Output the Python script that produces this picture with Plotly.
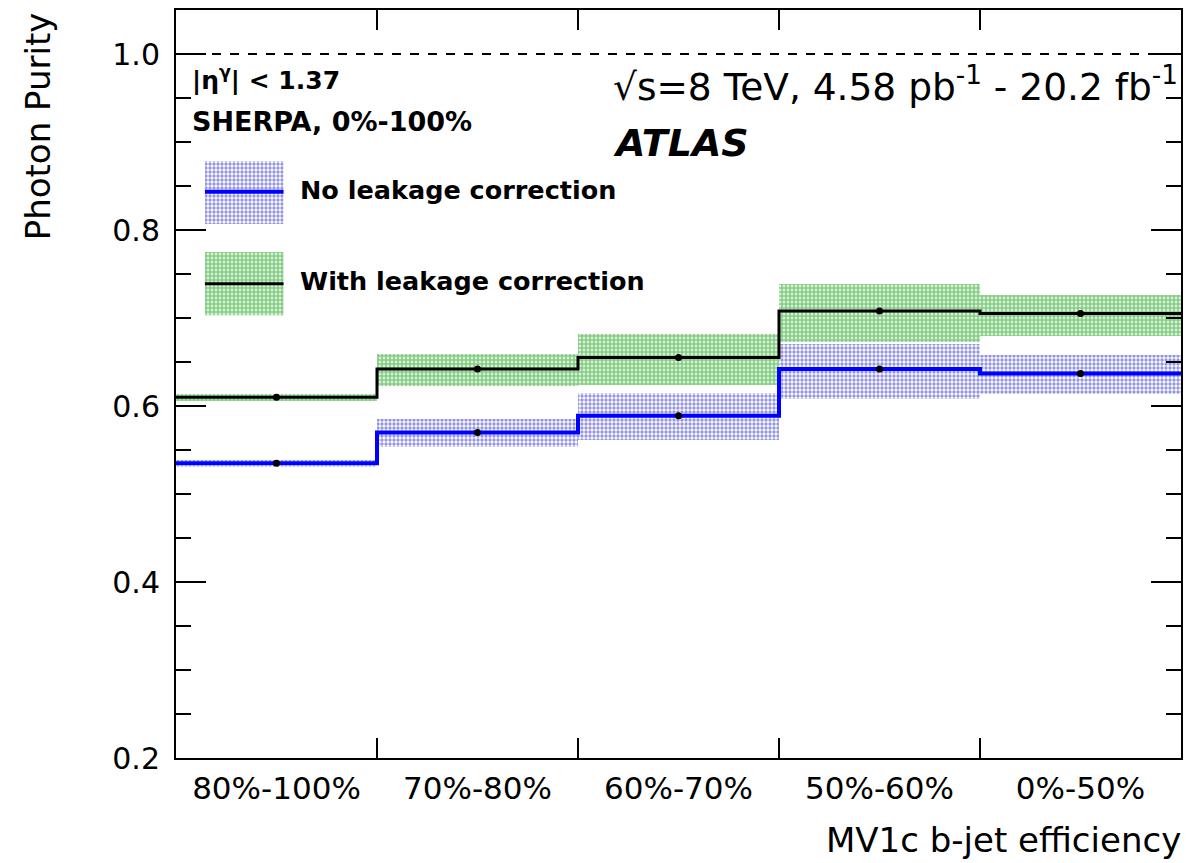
import plotly.graph_objects as go

# ---------------- data ----------------
categories = ["80%-100%", "70%-80%", "60%-70%", "50%-60%", "0%-50%"]
bin_centers = [0, 1, 2, 3, 4]
bin_edges = [-0.5, 0.5, 1.5, 2.5, 3.5, 4.5]

no_leak = [0.535, 0.570, 0.589, 0.642, 0.637]
no_leak_lo = [0.531, 0.553, 0.561, 0.608, 0.614]
no_leak_hi = [0.539, 0.585, 0.615, 0.671, 0.658]

with_leak = [0.610, 0.642, 0.655, 0.708, 0.705]
with_leak_lo = [0.606, 0.623, 0.624, 0.673, 0.680]
with_leak_hi = [0.614, 0.659, 0.682, 0.739, 0.726]

y_ticks = [0.2, 0.4, 0.6, 0.8, 1.0]
y_ticktext = ["0.2", "0.4", "0.6", "0.8", "1.0"]

FONT = "DejaVu Sans"
BLUE = "#0000ff"
GREEN_PAT = dict(shape=".", fgcolor="#0c9a0c", bgcolor="rgba(0,0,0,0)",
                 size=4, solidity=0.75, fillmode="overlay")
BLUE_PAT = dict(shape=".", fgcolor="#2a2ac4", bgcolor="rgba(0,0,0,0)",
                size=4, solidity=0.55, fillmode="overlay")

fig = go.Figure()

# uncertainty bands
fig.add_trace(go.Bar(
    x=bin_centers, y=[h - l for h, l in zip(with_leak_hi, with_leak_lo)], base=with_leak_lo,
    width=1.0, marker=dict(color="rgba(0,0,0,0)", line=dict(width=0), pattern=GREEN_PAT),
    showlegend=False, hoverinfo="skip"))
fig.add_trace(go.Bar(
    x=bin_centers, y=[h - l for h, l in zip(no_leak_hi, no_leak_lo)], base=no_leak_lo,
    width=1.0, marker=dict(color="rgba(0,0,0,0)", line=dict(width=0), pattern=BLUE_PAT),
    showlegend=False, hoverinfo="skip"))

# step lines
fig.add_trace(go.Scatter(x=bin_edges, y=with_leak + [with_leak[-1]], mode="lines",
                         line=dict(color="black", width=3, shape="hv"), showlegend=False))
fig.add_trace(go.Scatter(x=bin_edges, y=no_leak + [no_leak[-1]], mode="lines",
                         line=dict(color=BLUE, width=4, shape="hv"), showlegend=False))

# points
fig.add_trace(go.Scatter(x=bin_centers, y=with_leak, mode="markers",
                         marker=dict(color="black", size=7), showlegend=False))
fig.add_trace(go.Scatter(x=bin_centers, y=no_leak, mode="markers",
                         marker=dict(color="black", size=7), showlegend=False))

# legend swatches on an overlay axis (paper-like 0..1)
def swatch(x0, x1, y0, y1, ymid, pat, lcol, lw):
    fig.add_trace(go.Scatter(x=[x0, x1, x1, x0, x0], y=[y0, y0, y1, y1, y0], mode="lines",
                             fill="toself", line=dict(width=0, color="rgba(0,0,0,0)"),
                             fillcolor="rgba(0,0,0,0)", fillpattern=pat,
                             xaxis="x2", yaxis="y2", showlegend=False, hoverinfo="skip"))
    fig.add_trace(go.Scatter(x=[x0, x1], y=[ymid, ymid], mode="lines",
                             line=dict(color=lcol, width=lw), xaxis="x2", yaxis="y2",
                             showlegend=False, hoverinfo="skip"))

swatch(0.0288, 0.107, 0.714, 0.798, 0.757, BLUE_PAT, BLUE, 4)
swatch(0.0288, 0.107, 0.592, 0.6765, 0.634, GREEN_PAT, "black", 3)

# reference line at 1.0
fig.add_shape(type="line", xref="paper", yref="y", x0=0, x1=1, y0=1.0, y1=1.0,
              line=dict(color="black", width=2, dash="dash"))

ann = []
def text(x, y, s, size, xanchor="left", yanchor="middle", bold=False, italic=False, angle=0):
    if bold:
        s = "<b>" + s + "</b>"
    if italic:
        s = "<i>" + s + "</i>"
    ann.append(dict(x=x, y=y, xref="paper", yref="paper", text=s, showarrow=False,
                    xanchor=xanchor, yanchor=yanchor, textangle=angle,
                    font=dict(family=FONT, size=size, color="black")))

text(0.0139, 0.909, "|η<sup>γ</sup>| < 1.37", 25, bold=True)
text(0.0139, 0.8503, "SHERPA, 0%-100%", 27, bold=True)
text(0.1211, 0.7594, "No leakage correction", 25.5, bold=True)
text(0.1211, 0.6377, "With leakage correction", 25.5, bold=True)
text(0.433, 0.901, "√s=8 TeV, 4.58 pb<sup>-1</sup> - 20.2 fb<sup>-1</sup>", 37.5)
text(0.433, 0.822, "ATLAS", 38, bold=True, italic=True)
text(-0.137, 1.0, "Photon Purity", 34, xanchor="center", yanchor="top", angle=-90)
text(1.002, -0.1096, "MV1c b-jet efficiency", 34, xanchor="right")

fig.update_layout(
    width=1187, height=863,
    margin=dict(l=176, r=4, t=10, b=105),
    paper_bgcolor="white", plot_bgcolor="white",
    barmode="overlay", bargap=0,
    annotations=ann,
    font=dict(family=FONT, color="black"),
    xaxis=dict(range=[-0.5, 4.5], tickvals=bin_centers, ticktext=categories, ticks="",
               showgrid=False, zeroline=False, showline=True, linecolor="black", linewidth=2,
               mirror="allticks", tickfont=dict(family=FONT, size=31, color="black"),
               ticklabelstandoff=2,
               minor=dict(tickvals=[0.5, 1.5, 2.5, 3.5], ticks="inside", ticklen=20,
                          tickwidth=2, tickcolor="black", showgrid=False)),
    yaxis=dict(range=[0.2, 1.05], tickvals=y_ticks, ticktext=y_ticktext, ticks="inside",
               ticklen=30, tickwidth=2, tickcolor="black",
               showgrid=False, zeroline=False, showline=True, linecolor="black", linewidth=2,
               mirror="allticks", tickfont=dict(family=FONT, size=30, color="black"),
               ticklabelstandoff=8,
               minor=dict(dtick=0.05, tick0=0.2, ticks="inside", ticklen=15, tickwidth=2,
                          tickcolor="black", showgrid=False)),
    xaxis2=dict(range=[0, 1], overlaying="x", visible=False, fixedrange=True),
    yaxis2=dict(range=[0, 1], overlaying="y", visible=False, fixedrange=True),
)

fig.write_html("out.html", config={"displayModeBar": False},
               post_script="document.body.style.margin='0';")
